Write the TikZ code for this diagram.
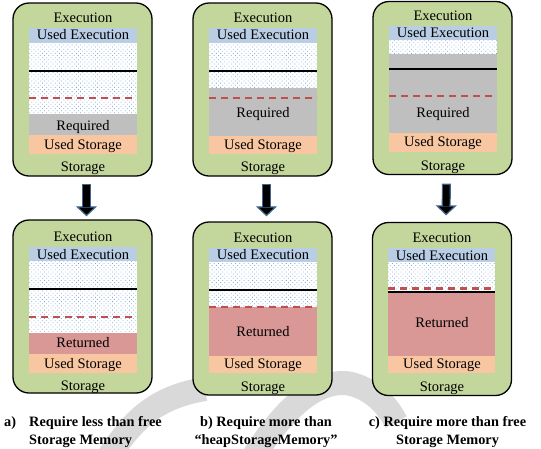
\documentclass[tikz,border=0pt]{standalone}
\usepackage{fontspec}
\setmainfont{Liberation Serif}
\usetikzlibrary{arrows.meta, patterns.meta}

\definecolor{poolgreen}{HTML}{C3D69B}
\definecolor{execblue}{HTML}{B9CDE5}
\definecolor{dotblue}{HTML}{7FA6D8}
\definecolor{reqgray}{HTML}{BFBFBF}
\definecolor{retpink}{HTML}{D99795}
\definecolor{storpeach}{HTML}{F8C6A0}
\definecolor{heapred}{HTML}{C0504D}
\definecolor{arrowedge}{HTML}{41668F}

\begin{document}
\begin{tikzpicture}[x=1pt, y=-1pt,
    pool/.style={rectangle, rounded corners=16pt, draw=black, line width=1.3pt,
                 fill=poolgreen, minimum width=139pt, minimum height=173pt,
                 inner sep=0pt},
    usedexec/.style={fill=execblue},
    freemem/.style={fill=white, postaction={pattern={Dots[distance=3pt, angle=45, radius=0.55pt]},
                    pattern color=dotblue}},
    required/.style={fill=reqgray},
    returned/.style={fill=retpink},
    usedstor/.style={fill=storpeach},
    limit/.style={draw=black, line width=2pt},
    heap/.style={draw=heapred, line width=2.2pt, dash pattern=on 7pt off 5pt},
    lbl/.style={font=\fontsize{14.5}{16}\selectfont, inner sep=0pt, anchor=base},
    capt/.style={font=\bfseries\fontsize{14.3}{18}\selectfont, inner sep=0pt},
    arrshell/.style={line width=9pt, draw=arrowedge,
                     -{Triangle[length=10pt, width=21pt, fill=black, line width=1.2pt]}},
    arrcore/.style={line width=6.6pt, draw=black},
    swoosh/.style={draw=black!15, line width=24pt}
  ]
  \useasboundingbox (0,0) rectangle (541,448);

  % faint swoosh behind everything
  \draw[swoosh] (105,462) .. controls (130,425) and (150,398) .. (205,389);
  \draw[swoosh] (250,462) .. controls (280,415) and (310,382) .. (345,383)
                .. controls (365,385) and (385,400) .. (396,422);

  % a) before
  \node[pool] (boxa) at (82.5,89.5) {};
  \fill[usedexec] (29,28)  rectangle (137,43);
  \fill[freemem]  (29,43)  rectangle (137,114);
  \fill[required] (29,114) rectangle (137,135);
  \fill[usedstor] (29,135) rectangle (137,154);
  \draw[limit] (29,71) -- (137,71);
  \draw[heap]  (29,98) -- (137,98);
  \node[lbl] (execa)  at (83,22.7)  {Execution};
  \node[lbl] (uexa)   at (83,39.3)  {Used Execution};
  \node[lbl] (reqa)   at (83,130.7) {Required};
  \node[lbl] (ustora) at (83,149.3) {Used Storage};
  \node[lbl] (stora)  at (83,171.7) {Storage};

  % b) before
  \node[pool] (boxb) at (262.5,89.5) {};
  \fill[usedexec] (209,28)  rectangle (317,43);
  \fill[freemem]  (209,43)  rectangle (317,88);
  \fill[required] (209,88)  rectangle (317,136);
  \fill[usedstor] (209,136) rectangle (317,154);
  \draw[limit] (209,71) -- (317,71);
  \draw[heap]  (209,98) -- (317,98);
  \node[lbl] (execb)  at (263,22.7)  {Execution};
  \node[lbl] (uexb)   at (263,39.3)  {Used Execution};
  \node[lbl] (reqb)   at (263,117.3) {Required};
  \node[lbl] (ustorb) at (263,149.3) {Used Storage};
  \node[lbl] (storb)  at (263,171.7) {Storage};

  % c) before
  \node[pool] (boxc) at (442.5,88) {};
  \fill[usedexec] (389,26)  rectangle (497,40);
  \fill[freemem]  (389,40)  rectangle (497,54);
  \fill[required] (389,54)  rectangle (497,133);
  \fill[usedstor] (389,133) rectangle (497,152);
  \draw[limit] (389,69) -- (497,69);
  \draw[heap]  (389,96) -- (497,96);
  \node[lbl] (execc)  at (443,20.7)  {Execution};
  \node[lbl] (uexc)   at (443,37.3)  {Used Execution};
  \node[lbl] (reqc)   at (443,117.3) {Required};
  \node[lbl] (ustorc) at (443,146.7) {Used Storage};
  \node[lbl] (storc)  at (443,170)   {Storage};

  % a) after
  \node[pool] (resa) at (82.5,306.5) {};
  \fill[usedexec] (29,247) rectangle (137,261);
  \fill[freemem]  (29,261) rectangle (137,333);
  \fill[returned] (29,333) rectangle (137,354);
  \fill[usedstor] (29,354) rectangle (137,373);
  \draw[limit] (29,289) -- (137,289);
  \draw[heap]  (29,317) -- (137,317);
  \node[lbl] (execra)  at (83,241.7) {Execution};
  \node[lbl] (uexra)   at (83,259)   {Used Execution};
  \node[lbl] (retra)   at (83,347.7) {Returned};
  \node[lbl] (ustorra) at (83,368.3) {Used Storage};
  \node[lbl] (storra)  at (83,390)   {Storage};

  % b) after
  \node[pool] (resb) at (262.5,308.5) {};
  \fill[usedexec] (209,248) rectangle (317,262);
  \fill[freemem]  (209,262) rectangle (317,307);
  \fill[returned] (209,307) rectangle (317,356);
  \fill[usedstor] (209,356) rectangle (317,373);
  \draw[limit] (209,290) -- (317,290);
  \draw[heap]  (209,307) -- (317,307);
  \node[lbl] (execrb)  at (263,242.3) {Execution};
  \node[lbl] (uexrb)   at (263,259.3) {Used Execution};
  \node[lbl] (retrb)   at (263,336)   {Returned};
  \node[lbl] (ustorrb) at (263,368.3) {Used Storage};
  \node[lbl] (storrb)  at (263,391.7) {Storage};

  % c) after
  \node[pool] (resc) at (442,309) {};
  \fill[usedexec] (388,248) rectangle (495,262);
  \fill[freemem]  (388,262) rectangle (495,292);
  \fill[returned] (388,292) rectangle (495,356);
  \fill[usedstor] (388,356) rectangle (495,373);
  \draw[limit] (388,292)   -- (495,292);
  \draw[heap]  (388,288.5) -- (495,288.5);
  \node[lbl] (execrc)  at (442,242.7) {Execution};
  \node[lbl] (uexrc)   at (442,260)   {Used Execution};
  \node[lbl] (retrc)   at (442,327.3) {Returned};
  \node[lbl] (ustorrc) at (442,368.3) {Used Storage};
  \node[lbl] (storrc)  at (442,391.7) {Storage};

  % block arrows from before to after
  \draw[arrshell, shorten <=7pt, shorten >=3pt]     ([xshift=4pt]boxa.south) -- ([xshift=4pt]resa.north);
  \draw[arrcore,  shorten <=8.2pt, shorten >=12pt]  ([xshift=4pt]boxa.south) -- ([xshift=4pt]resa.north);
  \draw[arrshell, shorten <=7pt, shorten >=5pt]     ([xshift=4pt]boxb.south) -- ([xshift=4pt]resb.north);
  \draw[arrcore,  shorten <=8.2pt, shorten >=14pt]  ([xshift=4pt]boxb.south) -- ([xshift=4pt]resb.north);
  \draw[arrshell, shorten <=8.5pt, shorten >=6.5pt] ([xshift=4pt]boxc.south) -- ([xshift=4pt]resc.north);
  \draw[arrcore,  shorten <=9.7pt, shorten >=15.5pt] ([xshift=4pt]boxc.south) -- ([xshift=4pt]resc.north);

  % captions
  \node[capt, anchor=north west] (taga) at (4,416) {a)};
  \node[capt, anchor=north west, align=left] (capa) at (29,416)
       {Require less than free\\Storage Memory};
  \node[capt, anchor=north, align=center] (capb) at (266,416)
       {b) Require more than\\“heapStorageMemory”};
  \node[capt, anchor=north, align=center] (capc) at (447.5,416)
       {c) Require more than free\\Storage Memory};

\end{tikzpicture}
\end{document}
